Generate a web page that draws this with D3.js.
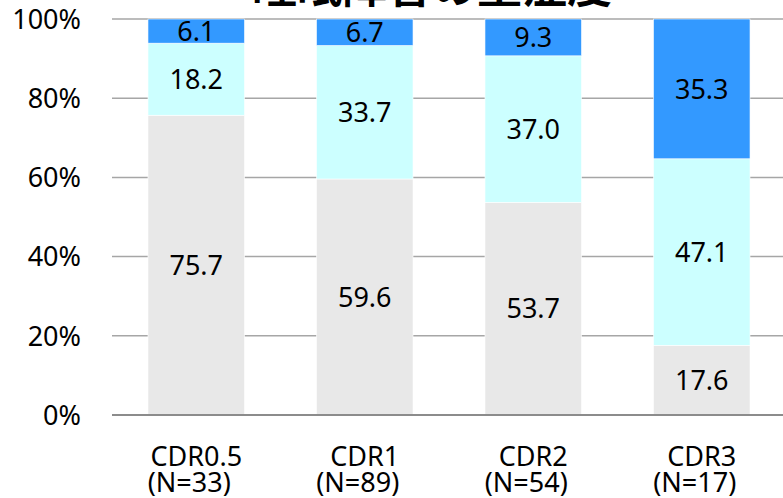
<!DOCTYPE html>
<html>
<head>
<meta charset="utf-8">
<script src="https://cdn.jsdelivr.net/npm/d3@7"></script>
<style>
  html, body { margin: 0; padding: 0; background: #fff; }
  svg { display: block; }
</style>
</head>
<body>
<svg id="chart" width="783" height="498"></svg>
<script>
// Categories (two-line labels) and stacked series values (%)
const categories = ["CDR0.5", "CDR1", "CDR2", "CDR3"];
const sampleSizes = ["(N=33)", "(N=89)", "(N=54)", "(N=17)"];
const seriesNames = ["なし", "軽度", "重度"];
const seriesNone   = [75.7, 59.6, 53.7, 17.6];
const seriesMild   = [18.2, 33.7, 37.0, 47.1];
const seriesSevere = [6.1, 6.7, 9.3, 35.3];
const yTicks = [0, 20, 40, 60, 80, 100];
const title = "睡眠障害の重症度";

const colors = ["#e8e8e8", "#ccffff", "#3399ff"];

const svg = d3.select("#chart");
const W = 783, H = 498;
const plotTop = 19;
const plotBottom = 415;

const rows = categories.map((c, i) => ({
  cat: c,
  [seriesNames[0]]: seriesNone[i],
  [seriesNames[1]]: seriesMild[i],
  [seriesNames[2]]: seriesSevere[i]
}));
const stacked = d3.stack().keys(seriesNames)(rows);

const x = d3.scaleBand()
  .domain(categories)
  .range([112, 786])
  .paddingInner(0.427)
  .paddingOuter(0.2135);

const y = d3.scaleLinear().domain([0, 100]).range([plotBottom, plotTop]);

const font = "'Noto Sans', 'DejaVu Sans', sans-serif";

// Horizontal gridlines
svg.append("g")
  .selectAll("line")
  .data(yTicks.filter(t => t > 0))
  .join("line")
  .attr("x1", 112).attr("x2", W)
  .attr("y1", d => y(d)).attr("y2", d => y(d))
  .attr("stroke", "#a6a6a6")
  .attr("stroke-width", 1.5);

// Y axis tick labels
svg.append("g")
  .selectAll("text")
  .data(yTicks)
  .join("text")
  .attr("x", 81)
  .attr("y", d => y(d))
  .attr("dy", "0.36em")
  .attr("text-anchor", "end")
  .attr("font-family", font)
  .attr("font-size", 27)
  .attr("fill", "#000")
  .text(d => d + "%");

// Stacked bars
const layers = svg.append("g")
  .selectAll("g")
  .data(stacked)
  .join("g")
  .attr("fill", (d, i) => colors[i]);

layers.selectAll("rect")
  .data(d => d)
  .join("rect")
  .attr("x", d => x(d.data.cat))
  .attr("width", x.bandwidth())
  .attr("y", d => y(d[1]))
  .attr("height", d => y(d[0]) - y(d[1]))
  .attr("stroke", "#ffffff")
  .attr("stroke-width", 0.6);

// Value labels centred in each segment
layers.selectAll("text")
  .data(d => d.map(v => ({ v, key: d.key })))
  .join("text")
  .attr("x", d => x(d.v.data.cat) + x.bandwidth() / 2)
  .attr("y", d => (y(d.v[0]) + y(d.v[1])) / 2)
  .attr("dy", "0.36em")
  .attr("text-anchor", "middle")
  .attr("font-family", font)
  .attr("font-size", 27)
  .attr("fill", "#000")
  .text(d => d.v.data[d.key].toFixed(1));

// Baseline axis
svg.append("line")
  .attr("x1", 112).attr("x2", W)
  .attr("y1", y(0)).attr("y2", y(0))
  .attr("stroke", "#8c8c8c")
  .attr("stroke-width", 2);

// Category labels
const xl = svg.append("g")
  .selectAll("text")
  .data(categories)
  .join("text")
  .attr("text-anchor", "middle")
  .attr("font-family", font)
  .attr("font-size", 27)
  .attr("fill", "#000");
xl.append("tspan")
  .attr("x", d => x(d) + x.bandwidth() / 2)
  .attr("y", 466)
  .text(d => d);
xl.append("tspan")
  .attr("x", d => x(d) + x.bandwidth() / 2 - 7)
  .attr("y", 492)
  .text((d, i) => sampleSizes[i]);

// Title (runs off the top edge)
svg.append("text")
  .attr("x", 432)
  .attr("y", 3)
  .attr("text-anchor", "middle")
  .attr("font-family", "'Noto Sans CJK JP', sans-serif")
  .attr("font-weight", "bold")
  .attr("font-size", 45)
  .attr("fill", "#000")
  .text(title);
</script>
</body>
</html>
